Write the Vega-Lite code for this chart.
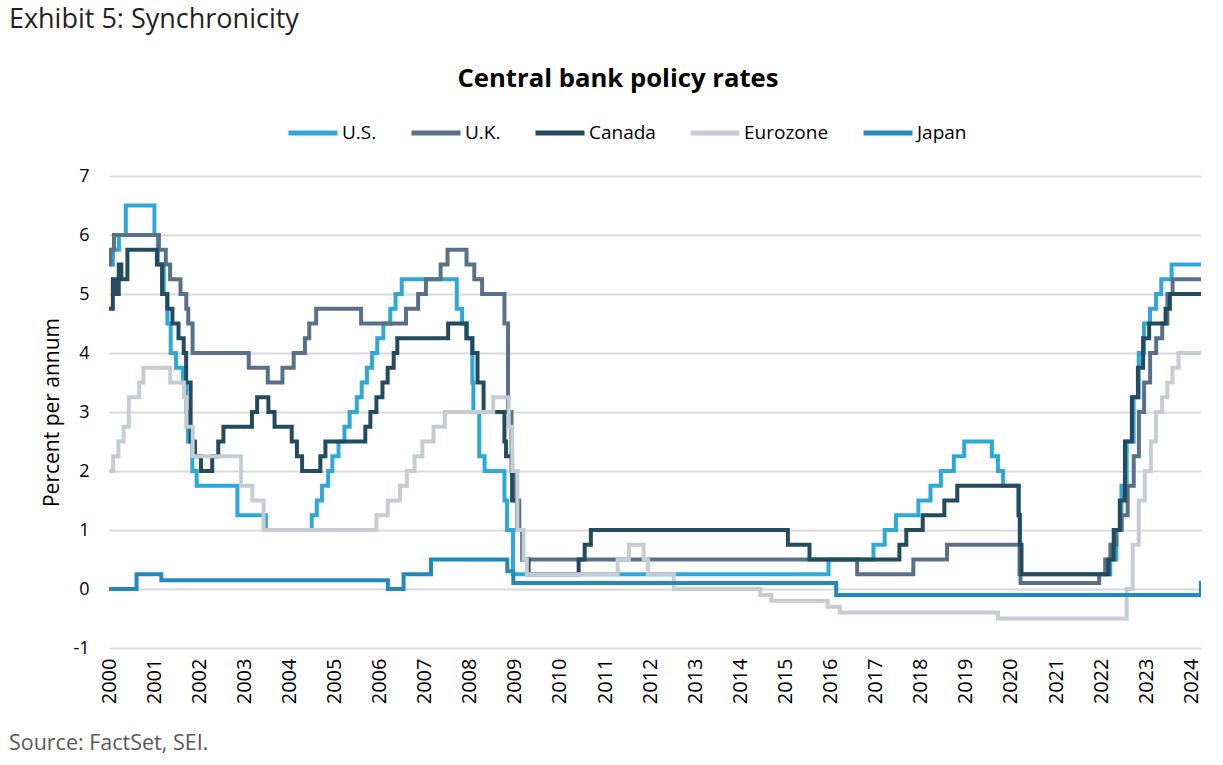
{
  "$schema": "https://vega.github.io/schema/vega-lite/v6.json",
  "padding": {"left": 8, "top": 6, "right": 21, "bottom": 8},
  "background": "white",
  "config": {
    "font": "Open Sans",
    "view": {"stroke": null}
  },
  "resolve": {"legend": {"color": "independent"}},
  "title": {"text": "Source: FactSet, SEI.", "orient": "bottom", "anchor": "start", "fontSize": 21.5, "fontWeight": "normal", "color": "#595959", "offset": 29},
  "vconcat": [
    {
      "title": {"text": "Exhibit 5: Synchronicity", "anchor": "start", "dx": -33, "fontSize": 27, "fontWeight": "normal", "color": "#1F1F1F", "offset": 32},
      "resolve": {"legend": {"color": "independent"}},
      "vconcat": [
        {
          "title": {"text": "Central bank policy rates", "anchor": "middle", "dx": -37, "fontSize": 25.7, "fontWeight": "bold", "color": "#000000", "offset": 13},
          "width": 1092,
          "height": 472,
          "data": {"values": [
            {"d":"2000-01-01","s":"U.S.","v":5.5},{"d":"2000-02-02","s":"U.S.","v":5.75},{"d":"2000-03-21","s":"U.S.","v":6.0},{"d":"2000-05-16","s":"U.S.","v":6.5},
            {"d":"2001-01-03","s":"U.S.","v":6.0},{"d":"2001-01-31","s":"U.S.","v":5.5},{"d":"2001-03-20","s":"U.S.","v":5.0},{"d":"2001-04-18","s":"U.S.","v":4.5},
            {"d":"2001-05-15","s":"U.S.","v":4.0},{"d":"2001-06-27","s":"U.S.","v":3.75},{"d":"2001-08-21","s":"U.S.","v":3.5},{"d":"2001-09-17","s":"U.S.","v":3.0},
            {"d":"2001-10-02","s":"U.S.","v":2.5},{"d":"2001-11-06","s":"U.S.","v":2.0},{"d":"2001-12-11","s":"U.S.","v":1.75},{"d":"2002-11-06","s":"U.S.","v":1.25},
            {"d":"2003-06-25","s":"U.S.","v":1.0},{"d":"2004-06-30","s":"U.S.","v":1.25},{"d":"2004-08-10","s":"U.S.","v":1.5},{"d":"2004-09-21","s":"U.S.","v":1.75},
            {"d":"2004-11-10","s":"U.S.","v":2.0},{"d":"2004-12-14","s":"U.S.","v":2.25},{"d":"2005-02-02","s":"U.S.","v":2.5},{"d":"2005-03-22","s":"U.S.","v":2.75},
            {"d":"2005-05-03","s":"U.S.","v":3.0},{"d":"2005-06-30","s":"U.S.","v":3.25},{"d":"2005-08-09","s":"U.S.","v":3.5},{"d":"2005-09-20","s":"U.S.","v":3.75},
            {"d":"2005-11-01","s":"U.S.","v":4.0},{"d":"2005-12-13","s":"U.S.","v":4.25},{"d":"2006-01-31","s":"U.S.","v":4.5},{"d":"2006-03-28","s":"U.S.","v":4.75},
            {"d":"2006-05-10","s":"U.S.","v":5.0},{"d":"2006-06-29","s":"U.S.","v":5.25},{"d":"2007-09-18","s":"U.S.","v":4.75},{"d":"2007-10-31","s":"U.S.","v":4.5},
            {"d":"2007-12-11","s":"U.S.","v":4.25},{"d":"2008-01-22","s":"U.S.","v":3.5},{"d":"2008-01-30","s":"U.S.","v":3.0},{"d":"2008-03-18","s":"U.S.","v":2.25},
            {"d":"2008-04-30","s":"U.S.","v":2.0},{"d":"2008-10-08","s":"U.S.","v":1.5},{"d":"2008-10-29","s":"U.S.","v":1.0},{"d":"2008-12-16","s":"U.S.","v":0.25},
            {"d":"2015-12-16","s":"U.S.","v":0.5},{"d":"2016-12-14","s":"U.S.","v":0.75},{"d":"2017-03-15","s":"U.S.","v":1.0},{"d":"2017-06-14","s":"U.S.","v":1.25},
            {"d":"2017-12-13","s":"U.S.","v":1.5},{"d":"2018-03-21","s":"U.S.","v":1.75},{"d":"2018-06-13","s":"U.S.","v":2.0},{"d":"2018-09-26","s":"U.S.","v":2.25},
            {"d":"2018-12-19","s":"U.S.","v":2.5},{"d":"2019-07-31","s":"U.S.","v":2.25},{"d":"2019-09-18","s":"U.S.","v":2.0},{"d":"2019-10-30","s":"U.S.","v":1.75},
            {"d":"2020-03-03","s":"U.S.","v":1.25},{"d":"2020-03-15","s":"U.S.","v":0.25},{"d":"2022-03-16","s":"U.S.","v":0.5},{"d":"2022-05-04","s":"U.S.","v":1.0},
            {"d":"2022-06-15","s":"U.S.","v":1.75},{"d":"2022-07-27","s":"U.S.","v":2.5},{"d":"2022-09-21","s":"U.S.","v":3.25},{"d":"2022-11-02","s":"U.S.","v":4.0},
            {"d":"2022-12-14","s":"U.S.","v":4.5},{"d":"2023-02-01","s":"U.S.","v":4.75},{"d":"2023-03-22","s":"U.S.","v":5.0},{"d":"2023-05-03","s":"U.S.","v":5.25},
            {"d":"2023-07-26","s":"U.S.","v":5.5},{"d":"2024-03-20","s":"U.S.","v":5.5},

            {"d":"2000-01-01","s":"U.K.","v":5.5},{"d":"2000-01-13","s":"U.K.","v":5.75},{"d":"2000-02-10","s":"U.K.","v":6.0},{"d":"2001-02-08","s":"U.K.","v":5.75},
            {"d":"2001-04-05","s":"U.K.","v":5.5},{"d":"2001-05-10","s":"U.K.","v":5.25},{"d":"2001-08-02","s":"U.K.","v":5.0},{"d":"2001-09-18","s":"U.K.","v":4.75},
            {"d":"2001-10-04","s":"U.K.","v":4.5},{"d":"2001-11-08","s":"U.K.","v":4.0},{"d":"2003-02-06","s":"U.K.","v":3.75},{"d":"2003-07-10","s":"U.K.","v":3.5},
            {"d":"2003-11-06","s":"U.K.","v":3.75},{"d":"2004-02-05","s":"U.K.","v":4.0},{"d":"2004-05-06","s":"U.K.","v":4.25},{"d":"2004-06-10","s":"U.K.","v":4.5},
            {"d":"2004-08-05","s":"U.K.","v":4.75},{"d":"2005-08-04","s":"U.K.","v":4.5},{"d":"2006-08-03","s":"U.K.","v":4.75},{"d":"2006-11-09","s":"U.K.","v":5.0},
            {"d":"2007-01-11","s":"U.K.","v":5.25},{"d":"2007-05-10","s":"U.K.","v":5.5},{"d":"2007-07-05","s":"U.K.","v":5.75},{"d":"2007-12-06","s":"U.K.","v":5.5},
            {"d":"2008-02-07","s":"U.K.","v":5.25},{"d":"2008-04-10","s":"U.K.","v":5.0},{"d":"2008-10-08","s":"U.K.","v":4.5},{"d":"2008-11-06","s":"U.K.","v":3.0},
            {"d":"2008-12-04","s":"U.K.","v":2.0},{"d":"2009-01-08","s":"U.K.","v":1.5},{"d":"2009-02-05","s":"U.K.","v":1.0},{"d":"2009-03-05","s":"U.K.","v":0.5},
            {"d":"2016-08-04","s":"U.K.","v":0.25},{"d":"2017-11-02","s":"U.K.","v":0.5},{"d":"2018-08-02","s":"U.K.","v":0.75},{"d":"2020-03-11","s":"U.K.","v":0.25},
            {"d":"2020-03-19","s":"U.K.","v":0.1},{"d":"2021-12-16","s":"U.K.","v":0.25},{"d":"2022-02-03","s":"U.K.","v":0.5},{"d":"2022-03-17","s":"U.K.","v":0.75},
            {"d":"2022-05-05","s":"U.K.","v":1.0},{"d":"2022-06-16","s":"U.K.","v":1.25},{"d":"2022-08-04","s":"U.K.","v":1.75},{"d":"2022-09-22","s":"U.K.","v":2.25},
            {"d":"2022-11-03","s":"U.K.","v":3.0},{"d":"2022-12-15","s":"U.K.","v":3.5},{"d":"2023-02-02","s":"U.K.","v":4.0},{"d":"2023-03-23","s":"U.K.","v":4.25},
            {"d":"2023-05-11","s":"U.K.","v":4.5},{"d":"2023-06-22","s":"U.K.","v":5.0},{"d":"2023-08-03","s":"U.K.","v":5.25},{"d":"2024-03-20","s":"U.K.","v":5.25},

            {"d":"2000-01-01","s":"Canada","v":4.75},{"d":"2000-02-01","s":"Canada","v":5.25},{"d":"2000-02-24","s":"Canada","v":5.0},{"d":"2000-03-20","s":"Canada","v":5.5},
            {"d":"2000-04-10","s":"Canada","v":5.25},{"d":"2000-05-29","s":"Canada","v":5.75},{"d":"2001-01-23","s":"Canada","v":5.5},{"d":"2001-03-06","s":"Canada","v":5.0},
            {"d":"2001-04-17","s":"Canada","v":4.75},{"d":"2001-05-29","s":"Canada","v":4.5},{"d":"2001-07-17","s":"Canada","v":4.25},{"d":"2001-08-28","s":"Canada","v":4.0},
            {"d":"2001-09-17","s":"Canada","v":3.5},{"d":"2001-10-23","s":"Canada","v":2.5},{"d":"2001-11-27","s":"Canada","v":2.25},{"d":"2002-01-15","s":"Canada","v":2.0},
            {"d":"2002-04-16","s":"Canada","v":2.25},{"d":"2002-06-04","s":"Canada","v":2.5},{"d":"2002-07-16","s":"Canada","v":2.75},{"d":"2003-03-04","s":"Canada","v":3.0},
            {"d":"2003-04-15","s":"Canada","v":3.25},{"d":"2003-07-15","s":"Canada","v":3.0},{"d":"2003-09-03","s":"Canada","v":2.75},{"d":"2004-01-20","s":"Canada","v":2.5},
            {"d":"2004-03-02","s":"Canada","v":2.25},{"d":"2004-04-13","s":"Canada","v":2.0},{"d":"2004-09-08","s":"Canada","v":2.25},{"d":"2004-10-19","s":"Canada","v":2.5},
            {"d":"2005-09-07","s":"Canada","v":2.75},{"d":"2005-10-18","s":"Canada","v":3.0},{"d":"2005-12-06","s":"Canada","v":3.25},{"d":"2006-01-24","s":"Canada","v":3.5},
            {"d":"2006-03-07","s":"Canada","v":3.75},{"d":"2006-04-25","s":"Canada","v":4.0},{"d":"2006-05-24","s":"Canada","v":4.25},{"d":"2007-07-10","s":"Canada","v":4.5},
            {"d":"2007-12-04","s":"Canada","v":4.25},{"d":"2008-01-22","s":"Canada","v":4.0},{"d":"2008-03-04","s":"Canada","v":3.5},{"d":"2008-04-22","s":"Canada","v":3.0},
            {"d":"2008-10-08","s":"Canada","v":2.5},{"d":"2008-10-21","s":"Canada","v":2.25},{"d":"2008-12-09","s":"Canada","v":1.5},{"d":"2009-01-20","s":"Canada","v":1.0},
            {"d":"2009-03-03","s":"Canada","v":0.5},{"d":"2009-04-21","s":"Canada","v":0.25},{"d":"2010-06-01","s":"Canada","v":0.5},{"d":"2010-07-20","s":"Canada","v":0.75},
            {"d":"2010-09-08","s":"Canada","v":1.0},{"d":"2015-01-21","s":"Canada","v":0.75},{"d":"2015-07-15","s":"Canada","v":0.5},{"d":"2017-07-12","s":"Canada","v":0.75},
            {"d":"2017-09-06","s":"Canada","v":1.0},{"d":"2018-01-17","s":"Canada","v":1.25},{"d":"2018-07-11","s":"Canada","v":1.5},{"d":"2018-10-24","s":"Canada","v":1.75},
            {"d":"2020-03-04","s":"Canada","v":1.25},{"d":"2020-03-13","s":"Canada","v":0.75},{"d":"2020-03-27","s":"Canada","v":0.25},{"d":"2022-03-02","s":"Canada","v":0.5},
            {"d":"2022-04-13","s":"Canada","v":1.0},{"d":"2022-06-01","s":"Canada","v":1.5},{"d":"2022-07-13","s":"Canada","v":2.5},{"d":"2022-09-07","s":"Canada","v":3.25},
            {"d":"2022-10-26","s":"Canada","v":3.75},{"d":"2022-12-07","s":"Canada","v":4.25},{"d":"2023-01-25","s":"Canada","v":4.5},{"d":"2023-06-07","s":"Canada","v":4.75},
            {"d":"2023-07-12","s":"Canada","v":5.0},{"d":"2024-03-20","s":"Canada","v":5.0},

            {"d":"2000-01-01","s":"Eurozone","v":2.0},{"d":"2000-02-04","s":"Eurozone","v":2.25},{"d":"2000-03-17","s":"Eurozone","v":2.5},{"d":"2000-04-28","s":"Eurozone","v":2.75},
            {"d":"2000-06-09","s":"Eurozone","v":3.25},{"d":"2000-09-01","s":"Eurozone","v":3.5},{"d":"2000-10-06","s":"Eurozone","v":3.75},{"d":"2001-05-11","s":"Eurozone","v":3.5},
            {"d":"2001-08-31","s":"Eurozone","v":3.25},{"d":"2001-09-18","s":"Eurozone","v":2.75},{"d":"2001-11-09","s":"Eurozone","v":2.25},{"d":"2002-12-06","s":"Eurozone","v":1.75},
            {"d":"2003-03-07","s":"Eurozone","v":1.5},{"d":"2003-06-06","s":"Eurozone","v":1.0},{"d":"2005-12-06","s":"Eurozone","v":1.25},{"d":"2006-03-08","s":"Eurozone","v":1.5},
            {"d":"2006-06-15","s":"Eurozone","v":1.75},{"d":"2006-08-09","s":"Eurozone","v":2.0},{"d":"2006-10-11","s":"Eurozone","v":2.25},{"d":"2006-12-13","s":"Eurozone","v":2.5},
            {"d":"2007-03-14","s":"Eurozone","v":2.75},{"d":"2007-06-13","s":"Eurozone","v":3.0},{"d":"2008-07-09","s":"Eurozone","v":3.25},{"d":"2008-11-12","s":"Eurozone","v":2.75},
            {"d":"2008-12-10","s":"Eurozone","v":2.0},{"d":"2009-01-21","s":"Eurozone","v":1.0},{"d":"2009-03-11","s":"Eurozone","v":0.5},{"d":"2009-04-08","s":"Eurozone","v":0.25},
            {"d":"2011-04-13","s":"Eurozone","v":0.5},{"d":"2011-07-13","s":"Eurozone","v":0.75},{"d":"2011-11-09","s":"Eurozone","v":0.5},{"d":"2011-12-14","s":"Eurozone","v":0.25},
            {"d":"2012-07-11","s":"Eurozone","v":0.0},{"d":"2014-06-11","s":"Eurozone","v":-0.1},{"d":"2014-09-10","s":"Eurozone","v":-0.2},{"d":"2015-12-09","s":"Eurozone","v":-0.3},
            {"d":"2016-03-16","s":"Eurozone","v":-0.4},{"d":"2019-09-18","s":"Eurozone","v":-0.5},{"d":"2022-07-27","s":"Eurozone","v":0.0},{"d":"2022-09-14","s":"Eurozone","v":0.75},
            {"d":"2022-11-02","s":"Eurozone","v":1.5},{"d":"2022-12-21","s":"Eurozone","v":2.0},{"d":"2023-02-08","s":"Eurozone","v":2.5},{"d":"2023-03-22","s":"Eurozone","v":3.0},
            {"d":"2023-05-10","s":"Eurozone","v":3.25},{"d":"2023-06-21","s":"Eurozone","v":3.5},{"d":"2023-08-02","s":"Eurozone","v":3.75},{"d":"2023-09-20","s":"Eurozone","v":4.0},
            {"d":"2024-03-20","s":"Eurozone","v":4.0},

            {"d":"2000-01-01","s":"Japan","v":0.0},{"d":"2000-08-11","s":"Japan","v":0.25},{"d":"2001-02-28","s":"Japan","v":0.15},{"d":"2006-03-09","s":"Japan","v":0.0},
            {"d":"2006-07-14","s":"Japan","v":0.25},{"d":"2007-02-21","s":"Japan","v":0.5},{"d":"2008-10-31","s":"Japan","v":0.3},{"d":"2008-12-19","s":"Japan","v":0.1},
            {"d":"2016-02-16","s":"Japan","v":-0.1},{"d":"2024-03-19","s":"Japan","v":0.1},{"d":"2024-03-20","s":"Japan","v":0.1}
          ]},
          "mark": {"type": "line", "interpolate": "step-after", "strokeWidth": 4, "clip": true},
          "encoding": {
            "x": {
              "field": "d", "type": "temporal",
              "scale": {"type": "utc", "domain": ["2000-01-01", "2024-03-20"], "nice": false},
              "axis": {
                "title": null, "format": "%Y", "formatType": "utc",
                "tickCount": {"interval": "year", "step": 1},
                "labelAngle": -90, "labelFontSize": 20, "labelColor": "#000000",
                "labelPadding": 10, "labelOverlap": false, "labelFlush": false,
                "domain": false, "ticks": false, "grid": false
              }
            },
            "y": {
              "field": "v", "type": "quantitative",
              "scale": {"domain": [-1, 7], "nice": false, "zero": false},
              "axis": {
                "title": "Percent per annum", "titleFontSize": 21, "titleFontWeight": "normal", "titleColor": "#000000", "titlePadding": 10,
                "values": [-1, 0, 1, 2, 3, 4, 5, 6, 7],
                "labelExpr": "datum.value < 0 ? '-' + abs(datum.value) : '' + datum.value",
                "labelFontSize": 18, "labelColor": "#000000", "labelPadding": 20,
                "domain": false, "ticks": false, "grid": true, "gridColor": "#D9D9DE", "gridWidth": 2
              }
            },
            "color": {
              "field": "s", "type": "nominal",
              "scale": {"domain": ["U.S.", "U.K.", "Canada", "Eurozone", "Japan"], "range": ["#2EA8D8", "#587089", "#244A5E", "#C5CCD3", "#2389BC"]},
              "legend": {
                "title": null, "orient": "none", "legendX": 177, "legendY": -70, "direction": "horizontal",
                "symbolType": "stroke", "symbolStrokeWidth": 5, "symbolSize": 2400,
                "labelFontSize": 19, "labelColor": "#000000", "labelOffset": 2,
                "columnPadding": 24
              }
            }
          }
        }
      ]
    }
  ]
}
